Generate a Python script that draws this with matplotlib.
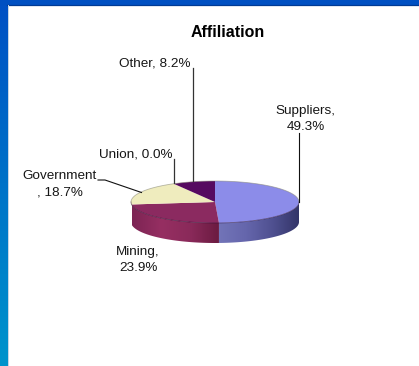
import numpy as np
import matplotlib
matplotlib.use("Agg")
import matplotlib.pyplot as plt
from matplotlib.colors import LinearSegmentedColormap
from matplotlib.patches import Polygon

plt.rcParams["font.family"] = ["Liberation Sans", "DejaVu Sans"]

names = ["Suppliers", "Mining", "Government", "Union", "Other"]
shares = [49.3, 23.9, 18.7, 0.0, 8.2]
label_text = ["Suppliers,\n49.3%", "Mining,\n23.9%", "Government\n, 18.7%", "Union, 0.0%", "Other, 8.2%"]

top_colors = ["#8C8CE9", "#8B2A60", "#EFECBE", "#8A8A8A", "#560A60"]
side_colors = {
    "Suppliers": ["#7274B8", "#6566AC", "#4F5090", "#323467"],
    "Mining": ["#7C2454", "#962F62", "#8A2A5A", "#6A1A40"],
}

# pie geometry in pixels
cx, cy, rx, ry, depth = 215.0, 202.0, 84.0, 21.0, 20.0

fig = plt.figure(figsize=(4.19, 3.66), dpi=100)
ax = fig.add_axes([0, 0, 1, 1])
ax.axis("off")

# slide frame: blue bars along the left and top
left_cmap = LinearSegmentedColormap.from_list("frame", ["#0050C4", "#0072C8", "#0094CC"])
ax.imshow(np.linspace(0, 1, 256).reshape(-1, 1), cmap=left_cmap, aspect="auto",
          extent=(0, 7, 366, 0), zorder=1)
ax.fill_between([0, 419], 0, 5, color="#0050C2", lw=0, zorder=2)
ax.plot([7, 419], [5.3, 5.3], color="#003A94", lw=0.9, zorder=3)
ax.plot([7.5, 7.5], [5, 366], color="#C8D4E4", lw=0.7, zorder=3)


def ellipse_pts(a_deg):
    # clock angle, 0 at twelve o'clock, running clockwise
    a = np.radians(a_deg)
    return cx + rx * np.sin(a), cy - ry * np.cos(a)


edges = np.cumsum([0.0] + shares) / sum(shares) * 360.0

# side wall: horizontal gradient clipped to the visible front of each wedge
for name, a0, a1 in zip(names, edges[:-1], edges[1:]):
    if name not in side_colors:
        continue
    xa, ya = ellipse_pts(np.linspace(max(a0, 90.0), min(a1, 270.0), 120))
    wall = Polygon(np.c_[np.r_[xa, xa[::-1]], np.r_[ya, ya[::-1] + depth]],
                   transform=ax.transData, fc="none", lw=0)
    ax.add_patch(wall)
    cmap = LinearSegmentedColormap.from_list(name, side_colors[name])
    grad = np.linspace(0, 1, 256).reshape(1, -1)
    box = (xa.min(), xa.max(), ya.max() + depth, ya.min())
    im = ax.imshow(grad, cmap=cmap, aspect="auto", extent=box, zorder=4)
    im.set_clip_path(wall)

# top face
for i, (a0, a1) in enumerate(zip(edges[:-1], edges[1:])):
    if a1 - a0 == 0:
        continue
    xa, ya = ellipse_pts(np.linspace(a0, a1, 80))
    ax.fill(np.r_[cx, xa], np.r_[cy, ya], color=top_colors[i], lw=0, zorder=5)

# rim of the top face
xa, ya = ellipse_pts(np.linspace(90, 270, 160))
ax.plot(xa, ya, color="#2A1030", lw=0.6, alpha=0.55, zorder=6)
xa, ya = ellipse_pts(np.linspace(270, 450, 160))
ax.plot(xa, ya, color="#8A8A7A", lw=0.6, alpha=0.6, zorder=6)

# leader lines
ax.plot([298.5, 298.5], [133, 202], color="#111111", lw=0.8, zorder=7)
ax.plot([192.7, 192.7], [68, 181], color="#333333", lw=0.9, zorder=7)
ax.plot([173.7, 173.7], [159, 183], color="#333333", lw=0.9, zorder=7)
ax.plot([141.5, 105, 98], [192.5, 180, 180], color="#111111", lw=0.8, zorder=7)

ax.text(228, 32.5, "Affiliation", fontsize=11.5, fontweight="bold", ha="center", va="center", zorder=8)
label_pos = [(305.7, 118.7), (138, 260), (59.5, 184.3), (135.5, 154.7), (155, 63)]
for txt, (lx, ly) in zip(label_text, label_pos):
    ax.text(lx, ly, txt, fontsize=9.7, color="#161616", ha="center", va="center",
            linespacing=1.45, zorder=8)

ax.set_xlim(0, 419)
ax.set_ylim(366, 0)

fig.savefig("out.png", dpi=100)
